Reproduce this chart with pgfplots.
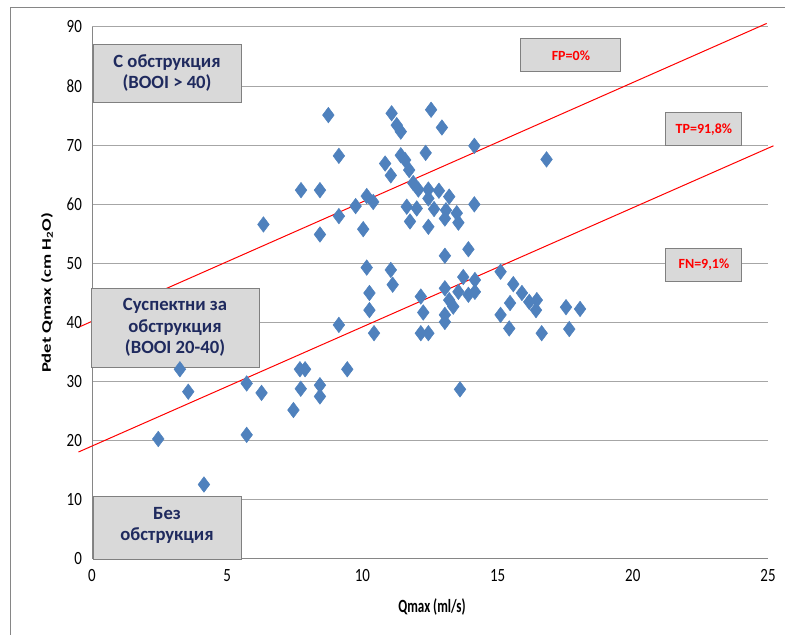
\documentclass[border=0pt]{standalone}
\usepackage{fontspec}
\setmainfont{Carlito}
\usepackage{pgfplots}
\usepackage{pgfplotstable}
\pgfplotsset{compat=1.18}
\definecolor{mk}{HTML}{4F81BD}
\definecolor{boxfill}{HTML}{D9D9D9}
\definecolor{boxline}{HTML}{808080}
\definecolor{navy}{HTML}{1F2A5E}
\definecolor{gridc}{HTML}{A6A6A6}
\definecolor{axc}{HTML}{868686}

\pgfplotstableread{
x y
2.45 20.3
3.25 32.1
3.56 28.3
4.14 12.6
5.72 29.7
5.72 21.0
6.27 28.1
7.69 32.1
7.88 32.1
7.72 28.8
7.45 25.2
8.43 29.4
8.43 27.5
9.44 32.1
6.34 56.6
7.73 62.4
8.43 62.4
8.43 54.9
8.74 75.1
9.13 68.2
9.13 58.0
9.13 39.6
9.75 59.7
10.03 55.8
10.16 61.4
10.40 60.4
10.16 49.3
10.26 45.0
10.26 42.1
10.43 38.2
11.08 75.4
11.27 73.4
11.42 72.3
12.54 76.0
12.94 73.0
14.14 69.9
12.34 68.7
11.42 68.3
11.58 67.5
10.84 66.9
11.73 65.8
11.05 64.9
11.88 63.6
12.07 62.5
12.44 62.5
12.83 62.3
13.21 61.3
12.44 61.0
11.64 59.6
12.01 59.3
12.65 59.2
13.09 59.0
13.49 58.5
14.14 60.0
11.76 57.1
13.05 57.6
13.55 56.9
12.44 56.2
13.05 51.3
13.92 52.4
11.05 48.9
11.12 46.4
12.16 44.4
12.25 41.7
12.16 38.2
12.44 38.2
13.05 45.8
13.21 43.8
13.36 42.7
13.05 41.3
13.05 40.1
13.73 47.7
14.16 47.2
13.55 45.2
13.92 44.7
14.16 45.2
13.61 28.7
15.11 48.6
15.58 46.5
15.46 43.3
15.11 41.3
15.43 39.0
15.90 45.0
16.17 43.5
16.45 43.8
16.42 42.1
16.63 38.2
17.53 42.6
18.05 42.3
17.65 38.9
16.81 67.6
}\datatable

\begin{document}
\begin{tikzpicture}
\begin{axis}[
  at={(69pt,57pt)}, anchor=south west,
  scale only axis, width=507pt, height=399pt,
  xmin=0, xmax=25, ymin=0, ymax=90,
  xtick={0,5,...,25}, ytick={0,10,...,90},
  axis x line*=bottom, axis y line*=left,
  axis line style={axc, -, line width=0.75pt},
  major tick length=0pt,
  ymajorgrids, grid style={gridc, line width=0.75pt},
  tick label style={font=\fontsize{14}{16}\selectfont, black, xscale=0.8},
  yticklabel style={xshift=-6pt},
  xticklabel style={yshift=-4pt},
  /pgf/number format/assume math mode=true,
  xlabel={Qmax (ml/s)},
  ylabel={Pdet Qmax (cm H\textsubscript{2}O)},
  xlabel style={font=\bfseries\fontsize{14}{16}\selectfont, at={(axis description cs:0.503,-0.09)}, anchor=center, xscale=0.7},
  ylabel style={font=\bfseries\fontsize{14}{16}\selectfont, at={(axis description cs:-0.0666,0.5)}, anchor=center, yscale=0.7},
  clip=false,
]
\addplot[red, line width=0.75pt] coordinates {(-0.45,39.3) (24.95,90.6)};
\addplot[red, line width=0.75pt] coordinates {(-0.5,18.1) (25.2,69.9)};
\addplot[only marks, mark=diamond*, mark size=5.8pt, mark options={fill=mk, draw=mk}] table[x=x,y=y] {\datatable};

\node[draw=boxline, fill=boxfill, line width=0.75pt, minimum width=111pt, minimum height=43.5pt, inner sep=0pt, align=center, text=navy, font=\bfseries\fontsize{14}{16.25}\selectfont] at (axis cs:2.774,82.2) {С обструкция\\(BOOI > 40)};
\node[draw=boxline, fill=boxfill, line width=0.75pt, minimum width=126pt, minimum height=59.25pt, inner sep=0pt, align=center, text=navy, font=\bfseries\fontsize{14}{16.25}\selectfont] at (axis cs:3.07,39.16) {Суспектни за\\обструкция\\(BOOI 20-40)};
\node[draw=boxline, fill=boxfill, line width=0.75pt, minimum width=111pt, minimum height=47.25pt, inner sep=0pt] at (axis cs:2.774,5.16) {};
\node[align=center, text=navy, inner sep=0pt, font=\bfseries\fontsize{14}{16.25}\selectfont] at (axis cs:2.774,5.7) {Без\\обструкция};
\node[draw=boxline, fill=boxfill, line width=0.75pt, minimum width=75pt, minimum height=24.75pt, inner sep=0pt, text=red, font=\bfseries\fontsize{10.5}{12}\selectfont] at (axis cs:17.71,85.18) {FP=0\%};
\node[draw=boxline, fill=boxfill, line width=0.75pt, minimum width=57pt, minimum height=24.75pt, inner sep=0pt, text=red, font=\bfseries\fontsize{10.5}{12}\selectfont] at (axis cs:22.63,72.66) {TP=91,8\%};
\node[draw=boxline, fill=boxfill, line width=0.75pt, minimum width=57pt, minimum height=24.75pt, inner sep=0pt, text=red, font=\bfseries\fontsize{10.5}{12}\selectfont] at (axis cs:22.63,49.82) {FN=9,1\%};
\end{axis}
\draw[axc, line width=0.75pt] (7.5pt,0pt) -- (7.5pt,470.25pt) -- (600pt,470.25pt);
\pgfresetboundingbox
\useasboundingbox (0pt,0pt) rectangle (588.75pt,476.25pt);
\end{tikzpicture}
\end{document}
